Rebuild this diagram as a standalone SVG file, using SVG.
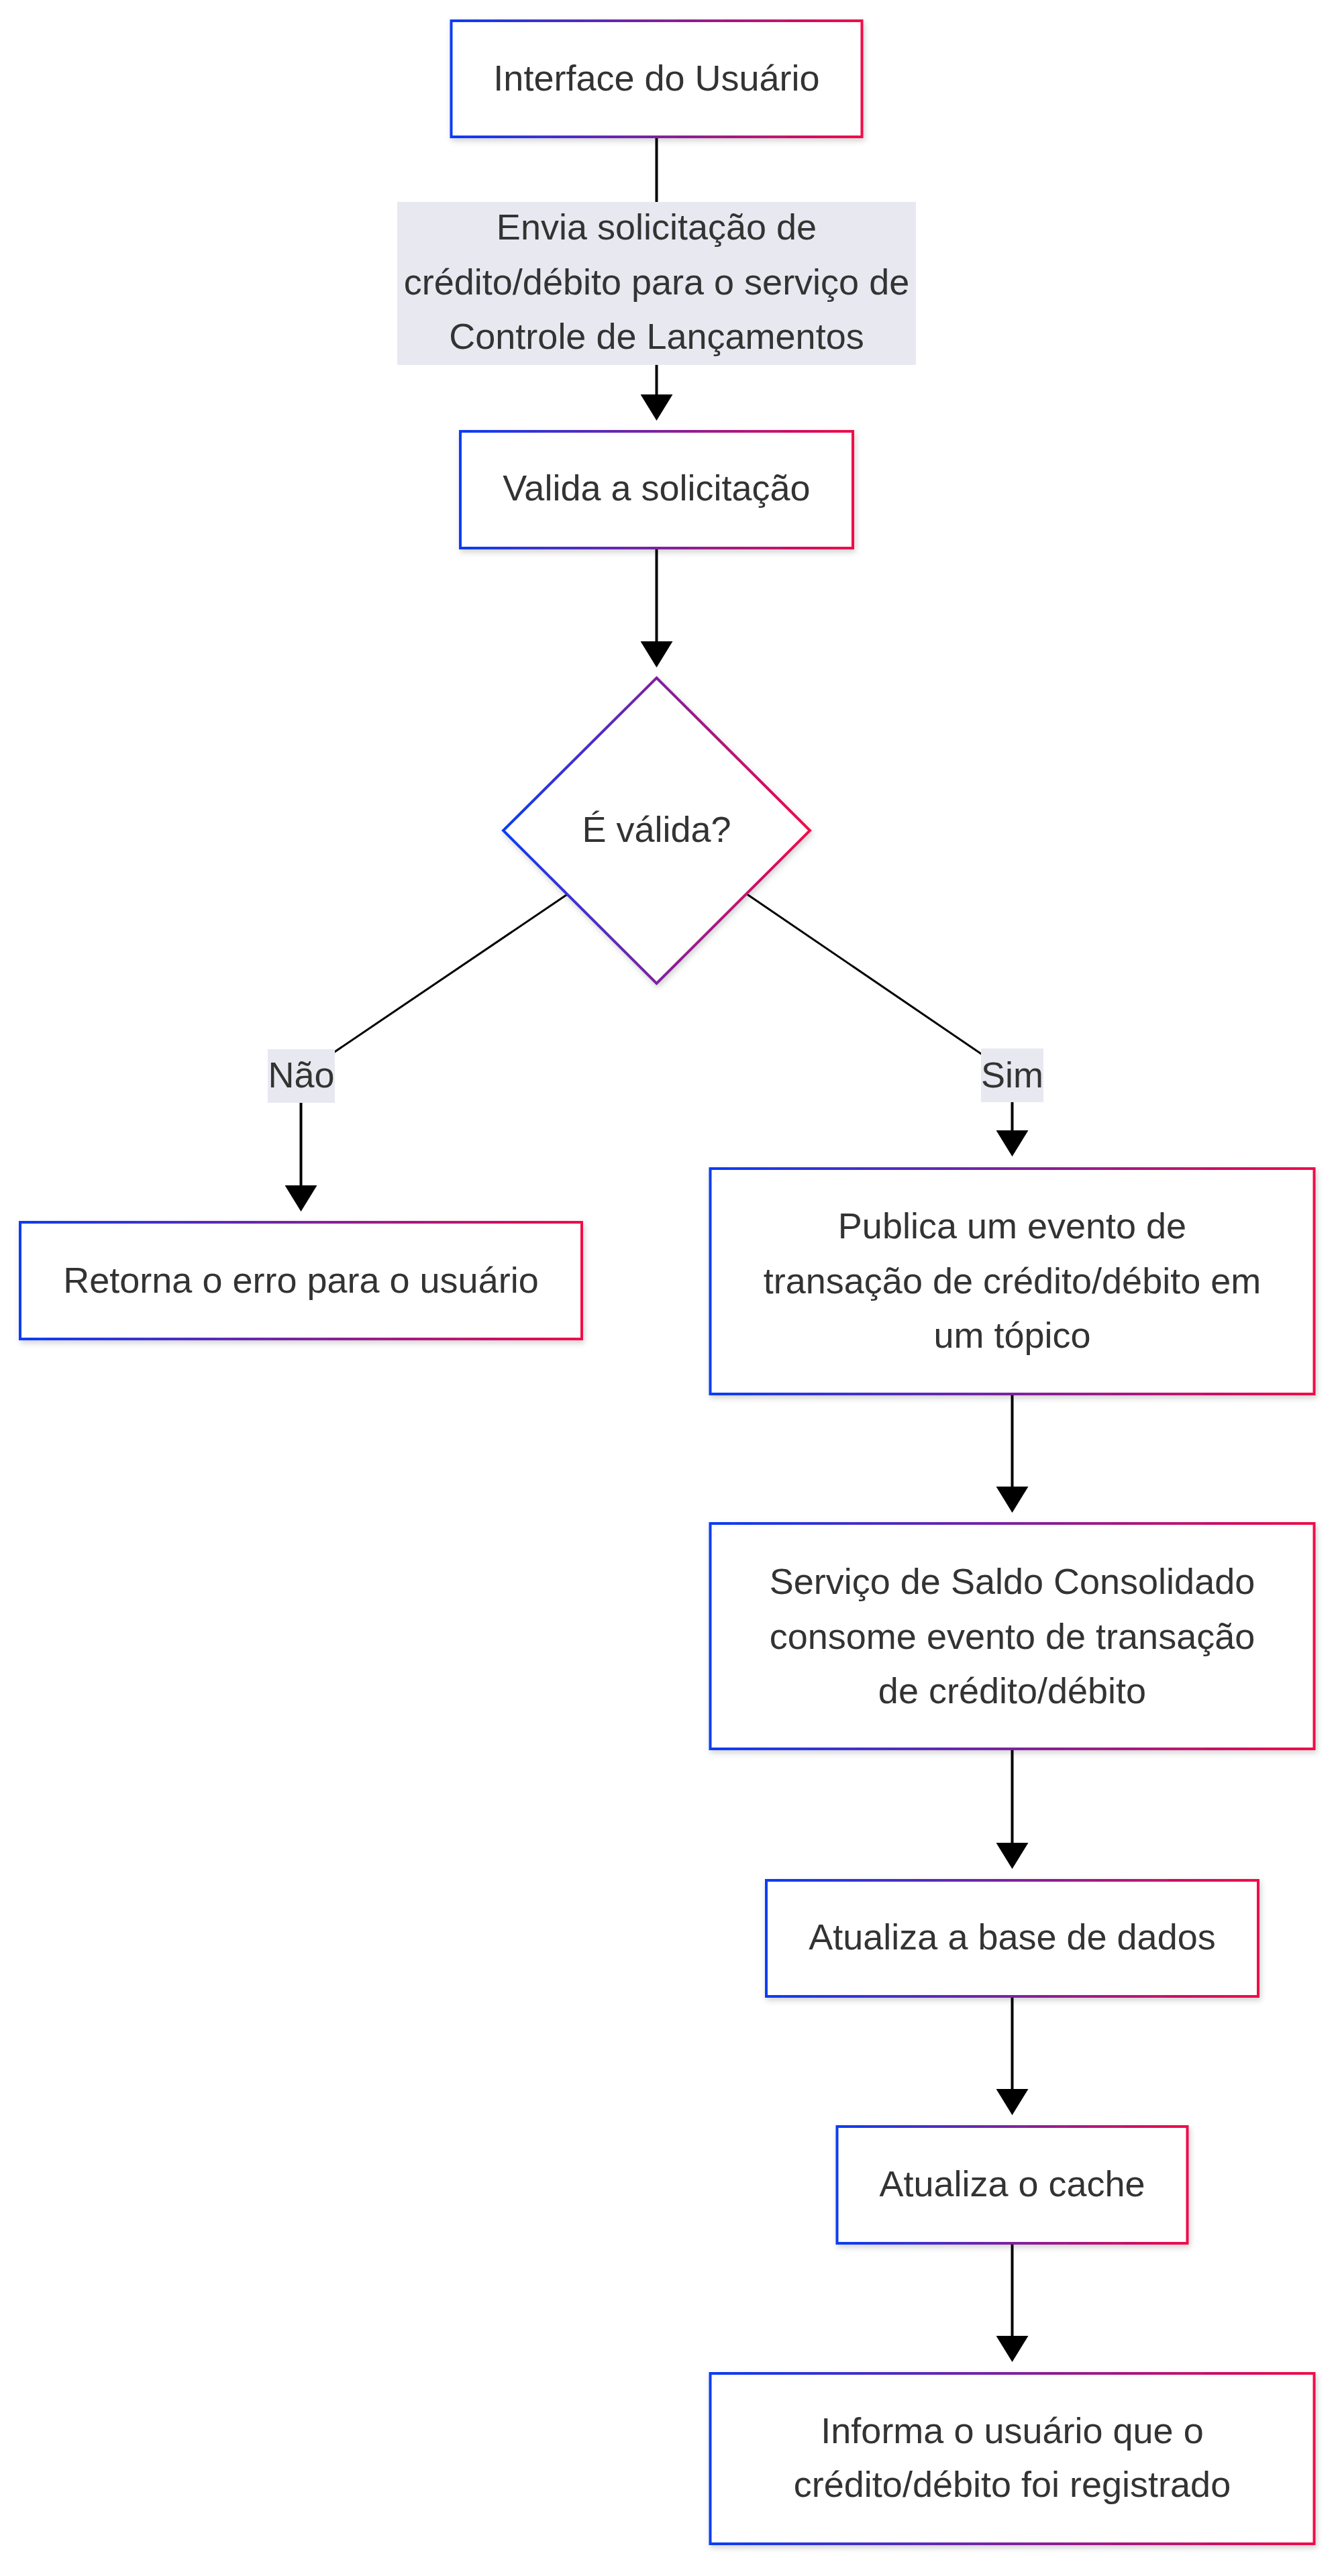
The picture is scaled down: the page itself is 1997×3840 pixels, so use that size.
<svg xmlns="http://www.w3.org/2000/svg" width="1997" height="3840" viewBox="0 0 1997 3840">
  <defs>
    <linearGradient id="grad" x1="0" y1="0" x2="1" y2="0">
      <stop offset="0" stop-color="#0a3cf5"/>
      <stop offset="1" stop-color="#f0084a"/>
    </linearGradient>
    <filter id="shadow" x="-10%" y="-10%" width="120%" height="130%">
      <feDropShadow dx="2" dy="4" stdDeviation="4" flood-color="#000" flood-opacity="0.18"/>
    </filter>
    <marker id="arrow" viewBox="0 0 39 48" refX="0" refY="24" markerWidth="39" markerHeight="48" markerUnits="userSpaceOnUse" orient="auto">
      <path d="M0,0 L39,24 L0,48 Z" fill="#000"/>
    </marker>
  </defs>
  <style>
    .node { fill: #ffffff; stroke: url(#grad); stroke-width: 4; filter: url(#shadow); }
    .label { font-family: "Liberation Sans", Arial, sans-serif; font-size: 54px; fill: #333333; text-anchor: middle; }
    .edge { fill: none; stroke: #000; stroke-width: 4; }
    .diag { fill: none; stroke: #000; stroke-width: 3; }
    .elbg { fill: #e8e8f1; }
  </style>
  <rect width="1997" height="3840" fill="#ffffff"/>

  <g id="connectors">
    <line class="edge" x1="978.5" y1="205" x2="978.5" y2="588" marker-end="url(#arrow)"/>
    <line class="edge" x1="978.5" y1="817" x2="978.5" y2="956" marker-end="url(#arrow)"/>
    <path class="diag" d="M845,1333.5 L448.5,1602"/>
    <line class="edge" x1="448.5" y1="1602" x2="448.5" y2="1767" marker-end="url(#arrow)"/>
    <path class="diag" d="M1114,1333.5 L1508.5,1602.5"/>
    <line class="edge" x1="1508.5" y1="1602" x2="1508.5" y2="1685" marker-end="url(#arrow)"/>
    <line class="edge" x1="1508.5" y1="2078" x2="1508.5" y2="2216" marker-end="url(#arrow)"/>
    <line class="edge" x1="1508.5" y1="2607" x2="1508.5" y2="2747" marker-end="url(#arrow)"/>
    <line class="edge" x1="1508.5" y1="2976" x2="1508.5" y2="3114" marker-end="url(#arrow)"/>
    <line class="edge" x1="1508.5" y1="3344" x2="1508.5" y2="3482" marker-end="url(#arrow)"/>

    <g id="label-envia">
      <rect class="elbg" x="592" y="301" width="773" height="243"/>
      <text class="label" x="978.5" y="357">Envia solicitação de</text>
      <text class="label" x="978.5" y="438.5">crédito/débito para o serviço de</text>
      <text class="label" x="978.5" y="520">Controle de Lançamentos</text>
    </g>
    <g id="label-nao">
      <rect class="elbg" x="399" y="1564" width="100" height="80"/>
      <text class="label" x="449" y="1621">Não</text>
    </g>
    <g id="label-sim">
      <rect class="elbg" x="1462" y="1563" width="93" height="80"/>
      <text class="label" x="1508.5" y="1621">Sim</text>
    </g>
  </g>

  <g id="node-interface">
    <rect class="node" x="672.5" y="31" width="612" height="173"/>
    <text class="label" x="978.5" y="135">Interface do Usuário</text>
  </g>

  <g id="node-valida">
    <rect class="node" x="686" y="643" width="585" height="174"/>
    <text class="label" x="978.5" y="746">Valida a solicitação</text>
  </g>

  <g id="node-decisao">
    <polygon class="node" points="978.5,1010.5 1207,1238 978.5,1466 750,1238"/>
    <text class="label" x="978.5" y="1255">É válida?</text>
  </g>

  <g id="node-retorna">
    <rect class="node" x="30" y="1822" width="837" height="174"/>
    <text class="label" x="448.5" y="1927">Retorna o erro para o usuário</text>
  </g>

  <g id="node-publica">
    <rect class="node" x="1058.5" y="1742" width="900" height="336"/>
    <text class="label" x="1508.5" y="1846">Publica um evento de</text>
    <text class="label" x="1508.5" y="1927.5">transação de crédito/débito em</text>
    <text class="label" x="1508.5" y="2009">um tópico</text>
  </g>

  <g id="node-servico">
    <rect class="node" x="1058.5" y="2271" width="900" height="336"/>
    <text class="label" x="1508.5" y="2376">Serviço de Saldo Consolidado</text>
    <text class="label" x="1508.5" y="2457.5">consome evento de transação</text>
    <text class="label" x="1508.5" y="2539">de crédito/débito</text>
  </g>

  <g id="node-base">
    <rect class="node" x="1142" y="2803" width="733" height="173"/>
    <text class="label" x="1508.5" y="2906">Atualiza a base de dados</text>
  </g>

  <g id="node-cache">
    <rect class="node" x="1247.5" y="3170" width="522" height="174"/>
    <text class="label" x="1508.5" y="3274">Atualiza o cache</text>
  </g>

  <g id="node-informa">
    <rect class="node" x="1058.5" y="3538" width="900" height="254"/>
    <text class="label" x="1508.5" y="3642">Informa o usuário que o</text>
    <text class="label" x="1508.5" y="3722">crédito/débito foi registrado</text>
  </g>
</svg>
